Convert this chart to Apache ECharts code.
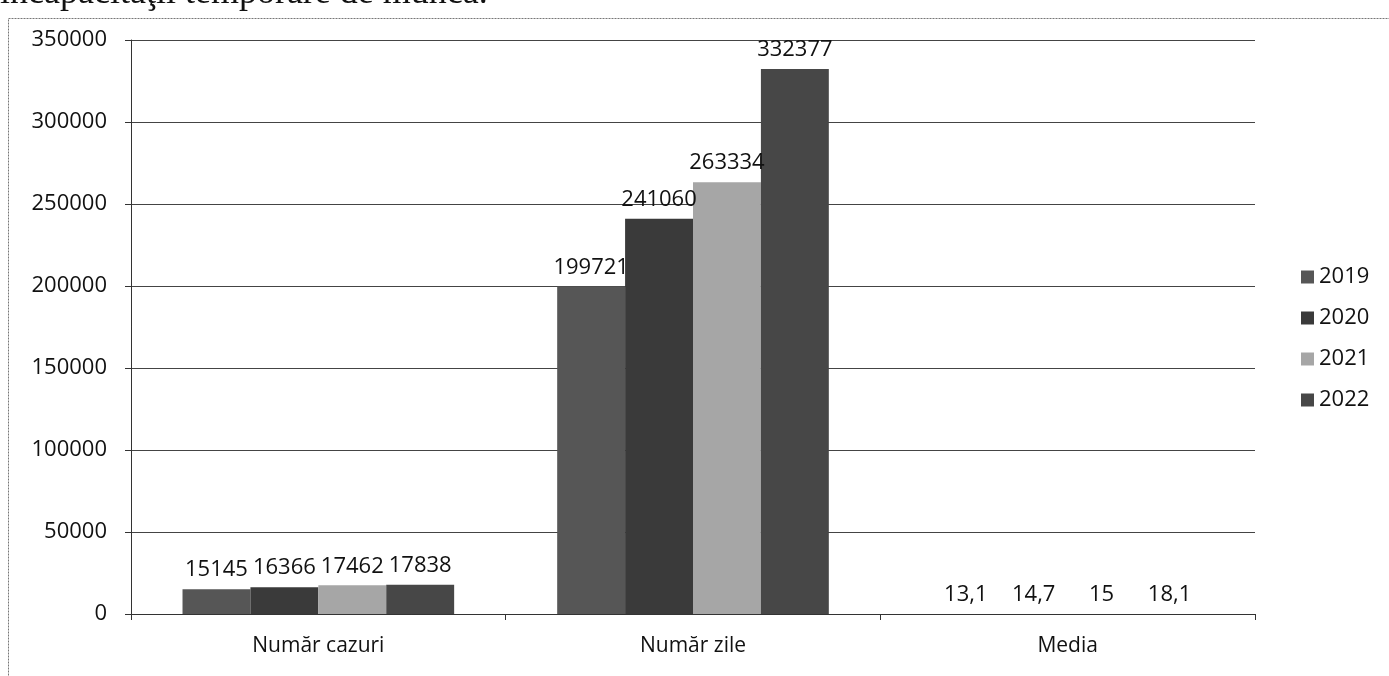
<!DOCTYPE html>
<html><head><meta charset="utf-8">
<script src="https://cdn.jsdelivr.net/npm/echarts@6/dist/echarts.min.js"></script>
<style>html,body{margin:0;padding:0;background:#fff}#c{width:1389px;height:676px}</style>
</head><body><div id="c"></div>
<script>
const categories = ['Număr cazuri', 'Număr zile', 'Media'];
const years = ['2019', '2020', '2021', '2022'];
const v2019 = [15145, 199721, 13.1];
const v2020 = [16366, 241060, 14.7];
const v2021 = [17462, 263334, 15];
const v2022 = [17838, 332377, 18.1];
const yTicks = [0, 50000, 100000, 150000, 200000, 250000, 300000, 350000];
const colors = ['#565656', '#3a3a3a', '#a6a6a6', '#474747'];
const seriesData = [v2019, v2020, v2021, v2022];

const chart = echarts.init(document.getElementById('c'));
const font = '"Open Sans", "DejaVu Sans", sans-serif';
chart.setOption({
  animation: false,
  backgroundColor: '#fff',
  textStyle: { fontFamily: font },
  graphic: [
    { type: 'rect', shape: { x: 8.5, y: 18.5, width: 1400, height: 700 }, style: { fill: 'none', stroke: '#777', lineWidth: 1, lineDash: [2, 1] } },
    { type: 'text', left: 0, top: -24, style: { text: 'incapacitaţii temporare de muncă.', font: '36px "Liberation Serif", serif', fill: '#111' } }
  ],
  legend: {
    orient: 'vertical', left: 1296, top: 261, itemWidth: 13, itemHeight: 13, itemGap: 19,
    icon: 'rect', textStyle: { fontSize: 22, color: '#111', fontFamily: font }, data: years
  },
  grid: { left: 131, right: 134, top: 40, bottom: 62 },
  xAxis: {
    type: 'category', data: categories,
    axisLine: { lineStyle: { color: '#333', width: 1 } },
    axisTick: { show: true, length: 6, lineStyle: { color: '#333' } },
    axisLabel: { fontSize: 21, color: '#111', margin: 22, fontFamily: font }
  },
  yAxis: {
    type: 'value', min: 0, max: 350000, interval: 50000,
    axisLine: { show: true, lineStyle: { color: '#333' } },
    axisTick: { show: true, length: 6, lineStyle: { color: '#333' } },
    splitLine: { lineStyle: { color: '#444', width: 1 } },
    axisLabel: { fontSize: 22, color: '#111', margin: 24, fontFamily: font,
      formatter: v => yTicks.includes(v) ? String(v) : '' }
  },
  series: years.map((y, i) => ({
    name: y, type: 'bar', data: seriesData[i],
    barGap: '0%', barCategoryGap: '27.5%',
    itemStyle: { color: colors[i] },
    label: { show: true, position: 'top', distance: 8, fontSize: 22, color: '#111', fontFamily: font,
      formatter: p => String(p.value).replace('.', ',') }
  }))
});
</script></body></html>
